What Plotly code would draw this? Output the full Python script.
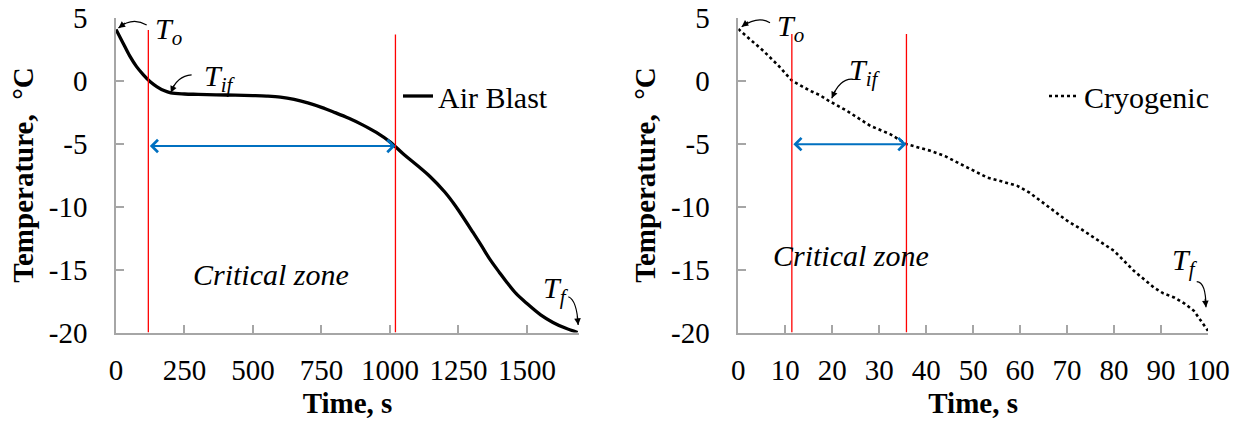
import plotly.graph_objects as go

# ---------------- data ----------------
air_t = [0, 25, 50, 75, 100, 125, 150, 175, 200, 250, 300, 400, 500, 550, 600, 650, 700, 750,
         800, 850, 900, 950, 1000, 1050, 1100, 1146, 1200, 1230, 1250, 1303, 1335, 1365, 1400,
         1427, 1460, 1500, 1550, 1595, 1640, 1685]
air_T = [4.05, 3.0, 1.95, 1.1, 0.45, -0.1, -0.5, -0.8, -0.98, -1.07, -1.1, -1.15, -1.2, -1.24,
         -1.32, -1.5, -1.78, -2.13, -2.55, -3.0, -3.52, -4.12, -4.87, -5.85, -6.75, -7.62, -8.85,
         -9.68, -10.3, -12.06, -13.15, -14.2, -15.25, -16.03, -16.9, -17.7, -18.6, -19.2,
         -19.65, -20.0]

cryo_t = [0, 2.5, 5.3, 8.5, 11.4, 13.5, 15.3, 17.3, 19.2, 23.1, 28.1, 32.3, 35.8, 40.9, 44.0,
          47.3, 51.5, 53.0, 56.0, 59.4, 62.0, 64.3, 67.0, 70.0, 73.0, 75.7, 80.0, 84.2, 88.5,
          90.5, 92.8, 95.0, 97.0, 100.0]
cryo_T = [4.08, 3.25, 2.36, 1.2, 0.0, -0.45, -0.82, -1.15, -1.6, -2.4, -3.6, -4.25, -5.05, -5.58,
          -6.0, -6.63, -7.43, -7.7, -8.0, -8.36, -8.9, -9.55, -10.3, -11.13, -11.8, -12.46,
          -13.52, -15.1, -16.43, -16.9, -17.22, -17.7, -18.28, -19.87]

air_zone = [118, 1020]      # critical zone bounds (s), air blast
air_zone_top = [4.0, 3.65]
air_zone_T = -5.2
cryo_zone = [11.4, 35.8]    # critical zone bounds (s), cryogenic
cryo_zone_top = [3.7, 3.7]
cryo_zone_T = -5.05

air_xticks = [0, 250, 500, 750, 1000, 1250, 1500]
cryo_xticks = [0, 10, 20, 30, 40, 50, 60, 70, 80, 90, 100]
yticks = [5, 0, -5, -10, -15, -20]
ytick_text = ["5", "0", "-5", "-10", "-15", "-20"]

# ---------------- style ----------------
FONT = "Liberation Serif"
AX = "#A6A6A6"
BLUE = "#0070C0"
RED = "#FF0000"
FS = 29
FS_TXT = 30

fig = go.Figure()

fig.add_trace(go.Scatter(x=air_t, y=air_T, mode="lines", name="Air Blast",
                         line=dict(color="black", width=3.3, shape="spline", smoothing=1.0),
                         xaxis="x", yaxis="y", legend="legend"))
fig.add_trace(go.Scatter(x=cryo_t, y=cryo_T, mode="lines", name="Cryogenic",
                         line=dict(color="black", width=2.6, dash="dot"),
                         xaxis="x2", yaxis="y2", legend="legend2"))

for xs, tops, xa, ya in [(air_zone, air_zone_top, "x", "y"), (cryo_zone, cryo_zone_top, "x2", "y2")]:
    for xv, tv in zip(xs, tops):
        fig.add_trace(go.Scatter(x=[xv, xv], y=[tv, -20], mode="lines", showlegend=False,
                                 line=dict(color=RED, width=1.3), xaxis=xa, yaxis=ya,
                                 hoverinfo="skip"))

annotations = []
shapes = []

# blue double arrows
for xs, T, xr, yr in [(air_zone, air_zone_T, "x", "y"), (cryo_zone, cryo_zone_T, "x2", "y2")]:
    annotations.append(dict(x=xs[1], y=T, ax=xs[0], ay=T, xref=xr, yref=yr, axref=xr, ayref=yr,
                            text="", showarrow=True, arrowside="end+start", arrowhead=4,
                            startarrowhead=4, arrowsize=1.2, startarrowsize=1.2,
                            arrowwidth=2, arrowcolor=BLUE, standoff=0, startstandoff=0))

def label(x, y, txt, xr, yr):
    annotations.append(dict(x=x, y=y, xref=xr, yref=yr, text=txt, showarrow=False,
                            font=dict(family=FONT, size=FS_TXT, color="black"),
                            xanchor="center", yanchor="middle"))

def curved_arrow(p0, c, p1, head, xr, yr):
    shapes.append(dict(type="path", xref=xr, yref=yr,
                       path=f"M {p0[0]},{p0[1]} Q {c[0]},{c[1]} {p1[0]},{p1[1]}",
                       line=dict(color="black", width=1.2)))
    annotations.append(dict(x=p1[0], y=p1[1], xref=xr, yref=yr, ax=head[0], ay=head[1],
                            text="", showarrow=True, arrowhead=2, arrowsize=1.1,
                            arrowwidth=1.2, arrowcolor="black", standoff=0))

# left panel labels
label(193, 3.93, "<i>T<sub>o</sub></i>", "x", "y")
label(380, 0.2, "<i>T<sub>if</sub></i>", "x", "y")
label(1606, -16.6, "<i>T<sub>f</sub></i>", "x", "y")
label(566, -15.36, "<i>Critical zone</i>", "x", "y")
curved_arrow((112, 4.40), (60, 5.07), (9, 4.17), (8, -6), "x", "y")
curved_arrow((276, 0.44), (222, 0.36), (200, -0.97), (4, -9), "x", "y")
curved_arrow((1651, -17.16), (1682, -17.42), (1687, -19.4), (-1, -10), "x", "y")

# right panel labels
label(11.2, 4.17, "<i>T<sub>o</sub></i>", "x2", "y2")
label(27.0, 0.67, "<i>T<sub>if</sub></i>", "x2", "y2")
label(95.1, -14.4, "<i>T<sub>f</sub></i>", "x2", "y2")
label(24.0, -13.85, "<i>Critical zone</i>", "x2", "y2")
curved_arrow((6.75, 4.59), (4.2, 5.17), (0.72, 4.27), (8, -6), "x2", "y2")
curved_arrow((24.5, 0.10), (21.6, 0.22), (19.9, -1.41), (4, -9), "x2", "y2")
curved_arrow((97.6, -15.97), (99.57, -16.0), (99.57, -18.0), (-1, -10), "x2", "y2")

axis_common = dict(showgrid=False, zeroline=False, showline=True, linecolor=AX, linewidth=1.5,
                   ticks="inside", ticklen=8, tickcolor=AX, tickwidth=1.5, automargin=False,
                   tickfont=dict(family=FONT, size=FS, color="black"), mirror=False)

ydom = [(421 - 332.5) / 421, (421 - 17.5) / 421]

fig.update_layout(
    template="none",
    width=1242, height=421, margin=dict(l=0, r=0, t=0, b=0, autoexpand=False),
    paper_bgcolor="white", plot_bgcolor="white",
    font=dict(family=FONT, size=FS, color="black"),
    xaxis=dict(axis_common, domain=[116 / 1242, 579 / 1242], range=[0, 1690],
               tickvals=air_xticks, ticktext=[str(v) for v in air_xticks],
               ticklabelstandoff=11,
               title=dict(text="<b>Time, s</b>", font=dict(family=FONT, size=FS), standoff=8),
               anchor="y"),
    yaxis=dict(axis_common, domain=ydom, range=[-20, 5], tickvals=yticks, ticktext=ytick_text,
               ticklabelstandoff=21,
               title=dict(text="<b>Temperature,&nbsp; °C</b>", font=dict(family=FONT, size=FS),
                          standoff=7),
               anchor="x"),
    xaxis2=dict(axis_common, domain=[738.3 / 1242, 1208 / 1242], range=[0, 100],
                tickvals=cryo_xticks, ticktext=[str(v) for v in cryo_xticks],
                ticklabelstandoff=11,
                title=dict(text="<b>Time, s</b>", font=dict(family=FONT, size=FS), standoff=8),
                anchor="y2"),
    yaxis2=dict(axis_common, domain=ydom, range=[-20, 5], tickvals=yticks, ticktext=ytick_text,
                ticklabelstandoff=21,
                title=dict(text="<b>Temperature,&nbsp; °C</b>", font=dict(family=FONT, size=FS),
                           standoff=7),
                anchor="x2"),
    legend=dict(x=398 / 1242, y=(421 - 96) / 421, xanchor="left", yanchor="middle",
                bgcolor="rgba(0,0,0,0)", font=dict(family=FONT, size=FS_TXT)),
    legend2=dict(x=1044 / 1242, y=(421 - 96) / 421, xanchor="left", yanchor="middle",
                 bgcolor="rgba(0,0,0,0)", font=dict(family=FONT, size=FS_TXT)),
    annotations=annotations, shapes=shapes, showlegend=True,
)

fig.write_html("out.html", config={"displayModeBar": False},
               post_script="document.body.style.margin='0px';")
